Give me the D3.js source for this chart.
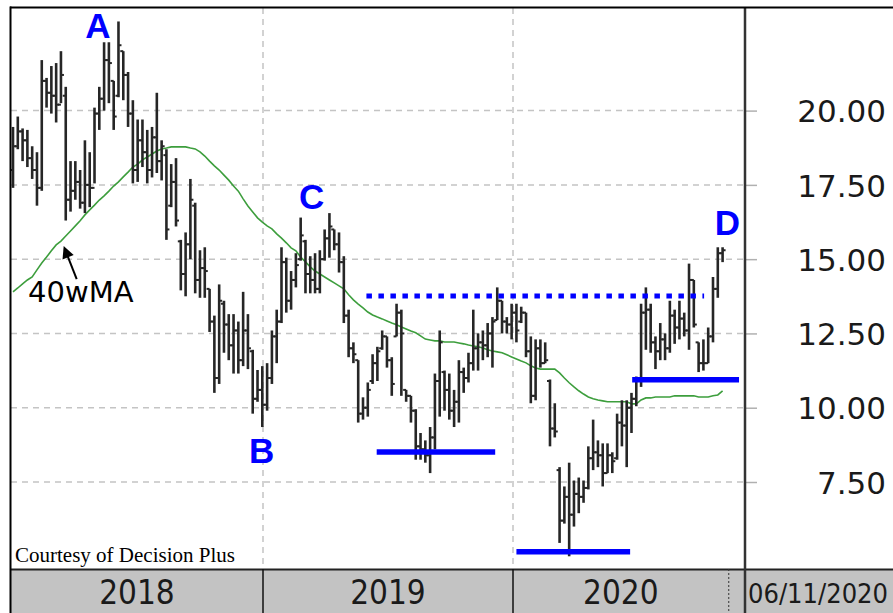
<!DOCTYPE html>
<meta charset="utf-8">
<script src="https://d3js.org/d3.v7.min.js"></script>
<style>
  body { margin: 0; background: #fff; }
</style>
<div id="chart"></div>
<script>

// weekly bars, Mondays from 2018-01-01 to 2020-11-02
var highs = [19.45,19.8,19.4,19.35,18.8,18.6,21.7,21.1,21.5,21.6,22.0,20.8,18.3,18.3,18.0,19.0,18.6,20.1,20.8,22.3,
  22.3,21.0,23.0,22.0,21.3,20.35,19.7,19.7,19.35,19.45,20.6,19.0,18.7,18.2,18.4,15.65,15.9,17.7,16.9,15.3,
  15.4,14.0,13.1,14.15,13.6,13.15,13.15,12.9,13.9,13.15,11.95,11.27,11.4,11.5,12.6,13.3,15.4,15.05,14.6,15.2,
  16.4,15.65,15.1,15.2,15.3,16.0,16.55,16.0,15.9,15.1,13.3,12.2,11.6,10.35,10.85,11.8,12.05,12.6,12.4,11.7,
  13.5,13.3,10.6,10.4,9.95,9.15,8.9,9.35,11.15,12.6,11.25,11.15,10.6,11.6,11.35,11.85,13.3,12.5,12.6,12.85,
  13.05,14.05,13.6,13.05,13.5,13.5,13.4,13.2,12.4,12.3,12.3,12.2,10.95,10.15,8.0,7.35,8.15,7.55,7.65,7.55,
  8.7,9.6,8.9,8.8,8.8,8.5,9.8,10.25,10.25,10.5,11.05,13.5,14.05,13.5,12.4,12.85,12.5,13.6,13.3,13.6,
  13.2,14.85,14.3,12.2,12.3,12.7,14.4,15.4,15.4];
var lows = [17.4,18.7,18.3,18.1,17.7,16.8,17.3,20.1,19.9,19.6,20.25,16.3,16.6,17.0,16.7,16.55,16.75,17.55,19.35,20.0,
  20.25,19.35,20.45,20.35,19.45,17.55,17.6,18.1,17.55,17.75,17.9,17.65,15.65,16.75,16.1,13.95,13.75,15.0,13.85,13.7,
  13.7,12.55,10.5,10.8,11.85,11.6,11.15,11.15,11.4,11.3,9.8,10.2,9.35,9.9,10.8,11.5,12.85,13.2,13.3,14.05,
  14.95,13.85,13.85,13.85,13.85,14.95,15.05,15.3,14.55,12.85,11.7,11.5,9.5,9.6,9.7,10.8,10.9,11.95,11.35,10.4,
  12.4,10.4,10.2,9.5,8.25,8.25,8.15,7.8,8.6,9.7,9.9,9.6,9.35,9.5,10.5,10.85,11.25,11.25,11.6,11.7,
  11.35,12.95,12.5,12.5,12.3,12.2,12.85,11.7,10.15,10.25,11.35,11.5,8.7,9.0,5.45,6.1,5.0,6.0,6.45,6.8,
  7.25,7.9,8.0,7.35,7.8,7.8,8.25,8.7,8.0,9.15,10.05,10.7,11.95,11.85,11.3,11.6,11.6,11.85,12.15,12.3,
  12.4,11.95,12.7,11.2,11.25,11.5,12.2,13.7,14.9];
var opens = [18.0,18.8,19.3,19.0,18.4,18.0,17.4,21.0,20.6,20.5,20.2,20.5,17.0,17.3,17.6,16.9,17.5,17.4,19.9,20.4,
  21.7,21.0,20.5,22.0,21.2,19.9,18.0,19.0,18.6,18.0,19.1,18.3,18.5,16.8,17.6,15.6,14.5,15.5,16.8,14.3,
  14.7,14.0,12.9,11.0,13.5,12.8,12.1,12.6,11.6,12.6,11.9,10.3,10.6,10.1,11.0,12.4,12.9,14.9,13.6,14.3,
  15.0,15.6,14.5,14.3,14.0,15.0,15.7,16.0,15.5,14.9,13.1,12.0,11.6,9.8,10.0,10.9,11.5,12.0,12.4,11.6,
  12.4,13.2,10.6,10.4,9.9,8.7,8.6,8.4,9.0,10.9,11.2,10.6,9.9,10.2,11.2,11.0,11.5,12.0,12.2,12.1,
  12.5,12.95,13.6,12.9,12.8,13.2,12.9,13.2,11.9,10.4,12.0,11.5,10.9,9.3,7.9,6.2,7.0,6.4,7.1,7.0,
  7.3,8.3,8.5,8.4,7.8,8.4,8.3,9.5,9.4,10.0,10.3,10.9,13.2,13.3,12.2,11.9,12.3,12.0,13.1,12.7,
  13.0,12.6,14.3,12.2,11.5,11.5,12.4,14.0,15.2];
var closes = [18.8,19.3,19.0,18.4,18.0,17.4,21.0,20.6,20.5,20.2,21.2,17.0,17.3,17.6,16.9,17.5,17.4,19.9,20.4,21.7,
  21.6,19.8,22.2,21.2,19.9,18.0,19.0,18.6,18.0,19.1,18.3,18.8,16.0,17.6,16.3,14.5,15.5,17.0,14.3,14.7,
  14.6,12.9,11.0,13.6,12.8,12.1,12.6,11.6,12.6,12.0,10.3,10.6,10.1,11.0,12.4,12.9,14.9,13.6,14.3,14.8,
  15.8,14.5,14.3,14.0,15.0,15.7,16.1,15.5,14.9,13.1,12.0,11.8,9.8,10.0,10.6,11.5,11.9,12.4,11.6,10.8,
  13.2,12.5,10.4,9.9,8.7,8.6,8.4,9.0,10.9,12.2,10.6,9.9,10.2,11.2,11.0,11.5,12.0,12.2,12.1,12.5,
  12.9,13.6,12.9,12.8,13.2,12.6,13.2,11.9,10.4,12.0,11.5,11.6,9.3,9.2,6.2,7.0,6.4,7.1,7.0,7.3,
  8.3,8.5,8.4,7.8,8.4,8.2,9.5,9.4,10.0,10.3,10.9,13.2,13.3,12.2,11.9,12.3,12.0,13.1,12.7,13.0,
  12.6,14.3,12.8,11.5,11.5,12.4,14.0,15.2,15.3];
var ma40 = [13.90,14.03,14.17,14.30,14.40,14.64,14.87,15.07,15.28,15.48,15.61,15.78,15.95,16.12,16.29,16.49,16.66,16.82,16.99,17.13,
  17.29,17.46,17.60,17.77,17.93,18.10,18.20,18.34,18.44,18.54,18.64,18.71,18.74,18.78,18.78,18.78,18.78,18.74,18.71,18.61,
  18.47,18.30,18.14,18.00,17.83,17.66,17.46,17.29,17.03,16.79,16.59,16.39,16.25,16.12,16.02,15.85,15.71,15.55,15.38,15.28,
  15.07,14.91,14.74,14.60,14.50,14.40,14.30,14.20,14.10,14.00,13.80,13.63,13.49,13.36,13.22,13.12,13.05,12.99,12.92,12.85,
  12.79,12.72,12.65,12.58,12.52,12.42,12.31,12.28,12.25,12.25,12.21,12.21,12.21,12.18,12.15,12.11,12.08,12.05,12.01,11.95,
  11.91,11.88,11.85,11.78,11.71,11.64,11.57,11.51,11.41,11.34,11.30,11.30,11.30,11.30,11.17,11.00,10.84,10.70,10.57,10.46,
  10.36,10.30,10.26,10.23,10.20,10.20,10.20,10.20,10.20,10.13,10.13,10.26,10.33,10.33,10.36,10.36,10.36,10.36,10.40,10.40,
  10.40,10.40,10.40,10.36,10.36,10.36,10.40,10.43,10.57];

var yTicks = [7.5, 10, 12.5, 15, 17.5, 20];
var years = ["2018", "2019", "2020"];
var yearStarts = ["2019-01-01", "2020-01-01"];
var lastDate = "06/11/2020";

// annotations (date, price)
var letters = ["A", "B", "C", "D"];
var letterDates = ["2018-05-05", "2018-12-30", "2019-03-13", "2020-11-09"];
var letterPrices = [22.44, 8.14, 16.69, 15.81];

var levelPrices = [13.76, 8.51, 5.15, 10.94];
var levelFrom = ["2019-06-01", "2019-06-16", "2020-01-06", "2020-06-23"];
var levelTo = ["2020-10-06", "2019-12-06", "2020-06-20", "2020-11-26"];
var levelDotted = [true, false, false, false];

var parse = d3.timeParse("%Y-%m-%d");
var dates = d3.timeMonday.range(new Date(2018, 0, 1), new Date(2020, 10, 3));

var W = 893, H = 613;
var plotL = 11, plotR = 745, plotT = 8, plotB = 569;

var svg = d3.select("#chart").append("svg")
    .attr("width", W)
    .attr("height", H)
    .style("font-family", "DejaVu Sans, sans-serif")

svg.append("rect").attr("width", W).attr("height", H).style("fill", "#fff")

var x = d3.scaleTime()
  .domain([new Date(2018, 0, 1), new Date(2020, 0, 1)])
  .range([13, 513])

var y = d3.scaleLinear()
  .domain([7.5, 20])
  .range([482, 110.6])

svg.append("clipPath").attr("id", "plotclip")
  .append("rect")
    .attr("x", plotL).attr("y", plotT)
    .attr("width", plotR - plotL).attr("height", plotB - plotT)

// grid
var grid = svg.append("g")
grid.selectAll("hline")
  .data(yTicks)
  .enter()
  .append("line")
    .attr("x1", plotL).attr("x2", plotR)
    .attr("y1", function(d) { return y(d) })
    .attr("y2", function(d) { return y(d) })
    .style("stroke", "#c4c4c4")
    .style("stroke-width", 1.5)
    .style("stroke-dasharray", "6,5")
grid.selectAll("vline")
  .data(yearStarts)
  .enter()
  .append("line")
    .attr("x1", function(d) { return x(parse(d)) })
    .attr("x2", function(d) { return x(parse(d)) })
    .attr("y1", plotT).attr("y2", plotB)
    .style("stroke", "#c4c4c4")
    .style("stroke-width", 1.5)
    .style("stroke-dasharray", "6,5")

var plot = svg.append("g").attr("clip-path", "url(#plotclip)")

// 40 week moving average
plot.append("path")
  .datum(ma40)
  .attr("d", d3.line()
    .x(function(d, i) { return x(dates[i]) })
    .y(function(d) { return y(d) }))
  .style("fill", "none")
  .style("stroke", "#3d9e3d")
  .style("stroke-width", 1.6)

// OHLC bars
var bars = plot.append("g")
  .selectAll("bar")
  .data(highs)
  .enter()
  .append("g")
    .style("stroke", "#262626")
    .style("stroke-width", 2.6)
bars.append("line")
  .attr("x1", function(d, i) { return x(dates[i]) })
  .attr("x2", function(d, i) { return x(dates[i]) })
  .attr("y1", function(d) { return y(d) })
  .attr("y2", function(d, i) { return y(lows[i]) })
bars.append("line")
  .attr("x1", function(d, i) { return x(dates[i]) - 3 })
  .attr("x2", function(d, i) { return x(dates[i]) })
  .attr("y1", function(d, i) { return y(opens[i]) })
  .attr("y2", function(d, i) { return y(opens[i]) })
  .style("stroke-width", 2)
bars.append("line")
  .attr("x1", function(d, i) { return x(dates[i]) })
  .attr("x2", function(d, i) { return x(dates[i]) + 3 })
  .attr("y1", function(d, i) { return y(closes[i]) })
  .attr("y2", function(d, i) { return y(closes[i]) })
  .style("stroke-width", 2)

// blue support / resistance lines
svg.append("g")
  .selectAll("level")
  .data(levelPrices)
  .enter()
  .append("line")
    .attr("x1", function(d, i) { return x(parse(levelFrom[i])) })
    .attr("x2", function(d, i) { return x(parse(levelTo[i])) })
    .attr("y1", function(d) { return y(d) })
    .attr("y2", function(d) { return y(d) })
    .style("stroke", "#0000ff")
    .style("stroke-width", function(d, i) { return levelDotted[i] ? 5 : 5.5 })
    .style("stroke-dasharray", function(d, i) { return levelDotted[i] ? "5.5,6.5" : null })

// letters
svg.append("g")
  .selectAll("letter")
  .data(letters)
  .enter()
  .append("text")
    .attr("x", function(d, i) { return x(parse(letterDates[i])) })
    .attr("y", function(d, i) { return y(letterPrices[i]) })
    .attr("text-anchor", "middle")
    .style("font-family", "Liberation Sans, Arial, sans-serif")
    .style("font-weight", "bold")
    .style("font-size", "35px")
    .style("fill", "#0000ff")
    .text(function(d) { return d })

// 40wMA label and arrow
svg.append("text")
  .attr("x", x(parse("2018-01-23")))
  .attr("y", y(13.56))
  .style("font-size", "29px")
  .style("fill", "#000")
  .text("40wMA")

var ax0 = x(parse("2018-04-04")), ay0 = y(14.33)
var ax1 = x(parse("2018-03-16")), ay1 = y(15.44)
var ang = Math.atan2(ay1 - ay0, ax1 - ax0)
svg.append("line")
  .attr("x1", ax0).attr("y1", ay0)
  .attr("x2", ax1 - 8 * Math.cos(ang)).attr("y2", ay1 - 8 * Math.sin(ang))
  .style("stroke", "#000")
  .style("stroke-width", 2)
svg.append("path")
  .attr("d", d3.line()([
    [ax1, ay1],
    [ax1 - 12 * Math.cos(ang) + 6 * Math.sin(ang), ay1 - 12 * Math.sin(ang) - 6 * Math.cos(ang)],
    [ax1 - 12 * Math.cos(ang) - 6 * Math.sin(ang), ay1 - 12 * Math.sin(ang) + 6 * Math.cos(ang)]
  ]) + "Z")
  .style("fill", "#000")

svg.append("text")
  .attr("x", 15)
  .attr("y", 562)
  .style("font-family", "Liberation Serif, Times New Roman, serif")
  .style("font-size", "21px")
  .style("fill", "#000")
  .text("Courtesy of Decision Plus")

// right price axis
var yAxis = svg.append("g")
  .attr("transform", "translate(" + plotR + ",0)")
  .call(d3.axisRight(y).tickValues(yTicks).tickSize(12).tickFormat(d3.format(".2f")))
yAxis.select(".domain").remove()
yAxis.selectAll(".tick line").style("stroke", "#b0b0b0").style("stroke-width", 1.5)
yAxis.selectAll(".tick text")
  .attr("x", 141)
  .attr("dy", "0.36em")
  .attr("text-anchor", "end")
  .style("font-family", "DejaVu Sans, sans-serif")
  .style("font-size", "31px")
  .style("fill", "#1a1a1a")

// bottom date band
var band = svg.append("g")
band.append("rect")
  .attr("x", plotL).attr("y", plotB)
  .attr("width", W - plotL).attr("height", H - plotB)
  .style("fill", "#c3c3c3")
band.append("line")
  .attr("x1", plotL).attr("x2", W)
  .attr("y1", plotB + 0.5).attr("y2", plotB + 0.5)
  .style("stroke", "#222").style("stroke-width", 2)

var bounds = [plotL].concat(yearStarts.map(function(d) { return x(parse(d)) }), [x(new Date(2020, 10, 11))])
band.selectAll("div")
  .data(yearStarts)
  .enter()
  .append("line")
    .attr("x1", function(d) { return x(parse(d)) })
    .attr("x2", function(d) { return x(parse(d)) })
    .attr("y1", plotB).attr("y2", H)
    .style("stroke", "#111").style("stroke-width", 1.5)
band.append("line")
  .attr("x1", bounds[3]).attr("x2", bounds[3])
  .attr("y1", plotB).attr("y2", H)
  .style("stroke", "#333").style("stroke-width", 1)
  .style("stroke-dasharray", "2,2")
band.selectAll("yr")
  .data(years)
  .enter()
  .append("text")
    .attr("x", function(d, i) { return (bounds[i] + bounds[i + 1]) / 2 })
    .attr("y", 604)
    .attr("text-anchor", "middle")
    .style("font-family", "DejaVu Sans Condensed, DejaVu Sans, sans-serif")
    .style("font-stretch", "condensed")
    .style("font-size", "33px")
    .style("fill", "#1a1a1a")
    .text(function(d) { return d })
band.append("text")
  .attr("x", plotR + 3)
  .attr("y", 603)
  .style("font-family", "DejaVu Sans Condensed, DejaVu Sans, sans-serif")
  .style("font-stretch", "condensed")
  .style("font-size", "27px")
  .style("fill", "#1a1a1a")
  .text(lastDate)

// axis separator and frame
svg.append("line")
  .attr("x1", plotR).attr("x2", plotR)
  .attr("y1", plotT).attr("y2", H)
  .style("stroke", "#333").style("stroke-width", 2.5)
svg.append("line")
  .attr("x1", 10.5).attr("x2", 10.5)
  .attr("y1", 6.5).attr("y2", H)
  .style("stroke", "#000").style("stroke-width", 2)
svg.append("line")
  .attr("x1", 10).attr("x2", W)
  .attr("y1", 7.5).attr("y2", 7.5)
  .style("stroke", "#000").style("stroke-width", 2)

</script>
